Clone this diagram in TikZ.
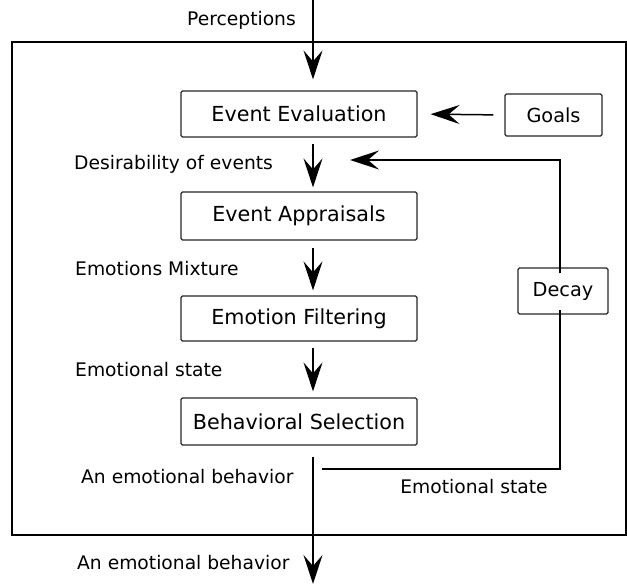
\documentclass[tikz,border=0pt]{standalone}
\usepackage{fontspec}
\setmainfont{DejaVu Sans}
\usetikzlibrary{arrows.meta}
\begin{document}
\begin{tikzpicture}[x=1pt,y=-1pt,
  block/.style={draw=black!85, line width=1.2pt, rounded corners=1.5pt,
    minimum width=236pt, inner sep=0pt, font=\fontsize{20.7}{24}\selectfont},
  sidebox/.style={draw=black!85, line width=1.2pt, rounded corners=1.5pt,
    inner sep=0pt, font=\fontsize{19.3}{23}\selectfont},
  lbl/.style={font=\fontsize{18.7}{22}\selectfont, inner sep=0pt},
  flow/.style={line width=1.5pt, -{Stealth[length=29pt, width=19pt, inset=11pt]}},
  wire/.style={line width=1.5pt}]
\useasboundingbox (0,0) rectangle (627,586);

% system frame
\draw[line width=1.4pt] (12,42) rectangle (626,535);

% main pipeline
\node[block, minimum height=46pt] (ee) at (299,114) {Event Evaluation};
\node[block, minimum height=48pt] (ea) at (299,216) {Event Appraisals};
\node[block, minimum height=45pt] (ef) at (299,318.5) {Emotion Filtering};
\node[block, minimum height=47pt] (bs) at (299,421.5) {Behavioral Selection};

% side blocks
\node[sidebox, minimum width=97pt, minimum height=42pt] (goals) at (553.5,115) {Goals};
\node[sidebox, minimum width=90pt, minimum height=46pt] (decay) at (563,291) {Decay};

% flow axis and loose ends
\coordinate (pin) at (313,0);
\coordinate (pout) at (313,584);
\coordinate (rt) at (560,160);
\coordinate (fb) at (350,160);
\coordinate (fbin) at (322,469);

% labels
\node[lbl] (perc) at (241.5,20) {Perceptions};
\node[lbl, anchor=west] (l1) at (74,164) {Desirability of events};
\node[lbl, anchor=west] (l2) at (75,269) {Emotions Mixture};
\node[lbl, anchor=west] (l3) at (75,370) {Emotional state};
\node[lbl, anchor=west] (l4) at (81,477) {An emotional behavior};
\node[lbl] (l5) at (474,487) {Emotional state};
\node[lbl, anchor=west] (l6) at (77,563) {An emotional behavior};

% arrows down the pipeline
\draw[flow, shorten >=11pt] (pin) -- (ee.north -| pin);
\draw[flow, shorten <=6pt, shorten >=4pt] (ee.south -| pin) -- (ea.north -| pin);
\draw[flow, shorten <=7pt, shorten >=5pt] (ea.south -| pin) -- (ef.north -| pin);
\draw[flow, shorten <=6pt, shorten >=6pt] (ef.south -| pin) -- (bs.north -| pin);
\draw[flow, shorten <=11pt] (bs.south -| pin) -- (pout);

% goals into evaluation
\draw[flow, shorten <=11pt, shorten >=13pt] (goals.west) -- (ee.east);

% emotional state feedback through decay
\draw[wire] (fbin) -- (fbin -| rt) -- ([yshift=5pt]decay.south -| rt);
\draw[flow] ([yshift=-6pt]decay.north -| rt) -- (rt) -- (fb);
\end{tikzpicture}
\end{document}
